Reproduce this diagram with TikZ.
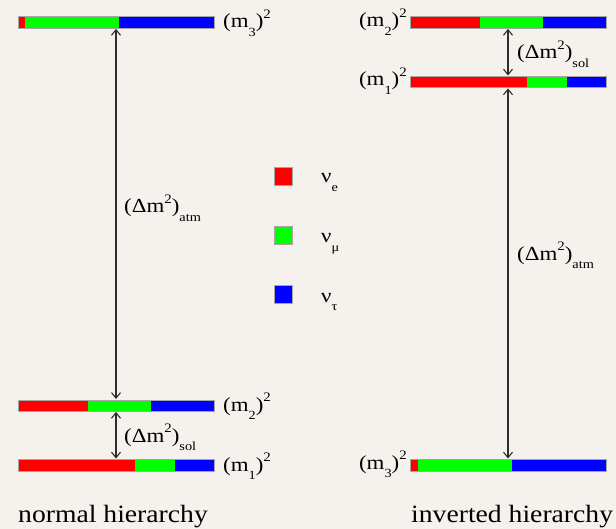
\documentclass[tikz,border=0pt]{standalone}
\usepackage{fontspec}
\usepackage{graphicx}
\setmainfont{Liberation Serif}
\usetikzlibrary{arrows.meta,calc}
\definecolor{bg}{RGB}{245,242,237}
\definecolor{cR}{RGB}{255,0,0}
\definecolor{cG}{RGB}{0,255,0}
\definecolor{cB}{RGB}{0,0,255}
\definecolor{arrc}{RGB}{45,45,45}
\newcommand{\hs}[1]{\scalebox{1.15}[1]{#1}}
\newcommand{\hst}[1]{\scalebox{1.11}[1]{#1}}
\newcommand{\mysub}[1]{\raisebox{-0.42em}{\fontsize{12.5}{13}\selectfont #1}}
\newcommand{\mysup}[1]{\raisebox{0.48em}{\fontsize{13}{13}\selectfont #1}}
\newcommand{\msq}[1]{(m\mysub{#1})\mysup{2}}
\newcommand{\dm}[1]{(Δm\mysup{2})\mysub{#1}}
\begin{document}
\begin{tikzpicture}[x=1bp,y=-1bp,
  bar/.style={draw=black!35,line width=0.4bp,rectangle,minimum width=196bp,minimum height=11.5bp,inner sep=0pt,anchor=north west},
  lbl/.style={font=\fontsize{20}{22}\selectfont,inner sep=0pt},
  title/.style={font=\fontsize{25}{28}\selectfont,inner sep=0pt,anchor=base west},
  arr/.style={arrc,line width=1.1bp,{Straight Barb[length=5.5bp,width=9bp]}-{Straight Barb[length=5.5bp,width=9bp]},shorten <=0.5bp,shorten >=0.5bp},
  sq/.style={draw=black!35,line width=0.4bp,minimum size=18bp,inner sep=0pt},
]
\fill[bg] (0,0) rectangle (616,529);
\useasboundingbox (0,0) rectangle (616,529);

% ---------- normal hierarchy ----------
\fill[cR] (18,16.5) rectangle (25,28);
\fill[cG] (25,16.5) rectangle (119,28);
\fill[cB] (119,16.5) rectangle (214,28);
\node[bar] (L3) at (18,16.5) {};

\fill[cR] (18,399.5) rectangle (88,411);
\fill[cG] (88,399.5) rectangle (151,411);
\fill[cB] (151,399.5) rectangle (214,411);
\node[bar] (L2) at (18,399.5) {};

\fill[cR] (18,459) rectangle (135,470.5);
\fill[cG] (135,459) rectangle (175,470.5);
\fill[cB] (175,459) rectangle (214,470.5);
\node[bar] (L1) at (18,459) {};

\node[lbl,anchor=base west] (tL3) at (223,28) {\hs{\msq{3}}};
\node[lbl,anchor=base west] (tL2) at (223,411) {\hs{\msq{2}}};
\node[lbl,anchor=base west] (tL1) at (223,471) {\hs{\msq{1}}};

\draw[arr] ([xshift=98bp]L3.south west) -- ([xshift=98bp]L2.north west);
\draw[arr] ([xshift=98bp]L2.south west) -- ([xshift=98bp]L1.north west);

\node[lbl,anchor=base west] (atmL) at (124,213) {\hs{\dm{atm}}};
\node[lbl,anchor=base west] (solL) at (124,442) {\hs{\dm{sol}}};

\node[title] (nh) at (18,522) {\hst{normal hierarchy}};

% ---------- inverted hierarchy ----------
\fill[cR] (410,16.5) rectangle (480,28);
\fill[cG] (480,16.5) rectangle (543,28);
\fill[cB] (543,16.5) rectangle (606,28);
\node[bar] (R2) at (410,16.5) {};

\fill[cR] (410,76) rectangle (527,87.5);
\fill[cG] (527,76) rectangle (567,87.5);
\fill[cB] (567,76) rectangle (606,87.5);
\node[bar] (R1) at (410,76) {};

\fill[cR] (410,459) rectangle (418,470.5);
\fill[cG] (418,459) rectangle (512,470.5);
\fill[cB] (512,459) rectangle (606,470.5);
\node[bar] (R3) at (410,459) {};

\node[lbl,anchor=base east] (tR2) at (407,27) {\hs{\msq{2}}};
\node[lbl,anchor=base east] (tR1) at (407,86) {\hs{\msq{1}}};
\node[lbl,anchor=base east] (tR3) at (407,469) {\hs{\msq{3}}};

\draw[arr] ([xshift=98bp]R2.south west) -- ([xshift=98bp]R1.north west);
\draw[arr] ([xshift=98bp]R1.south west) -- ([xshift=98bp]R3.north west);

\node[lbl,anchor=base west] (solR) at (517,59) {\hs{\dm{sol}}};
\node[lbl,anchor=base west] (atmR) at (517,260) {\hs{\dm{atm}}};

\node[title] (ih) at (411,522) {\hst{inverted hierarchy}};

% ---------- legend ----------
\node[sq,fill=cR] (sqe) at (283,176) {};
\node[sq,fill=cG] (sqm) at (283,235) {};
\node[sq,fill=cB] (sqt) at (283,294) {};
\node[lbl,anchor=base west] (ne) at (321,183) {\hs{ν\mysub{e}}};
\node[lbl,anchor=base west] (nm) at (321,243) {\hs{ν\mysub{μ}}};
\node[lbl,anchor=base west] (nt) at (321,302) {\hs{ν\mysub{τ}}};
\end{tikzpicture}
\end{document}
